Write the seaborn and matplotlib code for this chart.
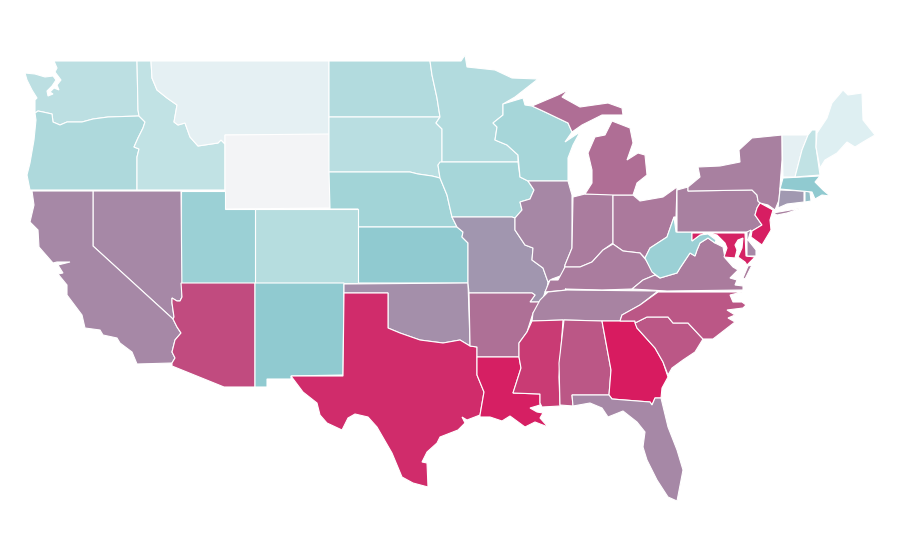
import matplotlib
matplotlib.use("Agg")
import matplotlib.pyplot as plt
import pandas as pd
import seaborn as sns
from matplotlib.colors import Normalize

# state values, 0-100
states = ["WA", "OR", "CA", "NV", "ID", "MT", "WY", "UT", "CO", "AZ", "NM", "ND", "SD", "NE", "KS", "OK", "TX",
          "MN", "IA", "MO", "AR", "LA", "WI", "IL", "IN", "MI", "OH", "KY", "TN", "MS", "AL", "GA", "FL", "SC",
          "NC", "VA", "WV", "PA", "NY", "MD", "DE", "NJ", "CT", "RI", "MA", "VT", "NH", "ME"]
values = [28, 35, 68.5, 68.5, 25, 7.5, 0, 44.5, 31, 86, 50, 33, 29, 41, 50, 66.5, 95,
          33, 39, 64.5, 75.5, 98.5, 39, 69, 72, 76, 73, 72, 70, 91, 82.5, 100, 68.5, 82.5,
          82.5, 72.5, 44.5, 71, 71, 98, 68.5, 99, 64, 53, 50, 7.5, 25, 11]

# map outlines, in map units (top left origin)
outlines = {
    "WA": [(54, 61), (137, 61), (138, 110), (139, 116), (108, 117), (93, 119), (82, 122), (67, 122), (60, 125),
           (53, 122), (52, 114), (43, 112), (38, 111), (35, 113), (35, 100), (37, 98), (32, 90), (27, 80), (25, 73),
           (35, 74), (45, 77), (53, 76), (56, 80), (52, 86), (47, 91), (48, 96), (53, 94), (50, 92), (54, 88),
           (59, 90), (57, 85), (61, 80), (58, 76), (55, 72), (57, 68)],
    "OR": [(35, 113), (38, 111), (43, 112), (52, 114), (53, 122), (60, 125), (67, 122), (82, 122), (93, 119),
           (108, 117), (139, 116), (145, 122), (143, 128), (138, 138), (134, 147), (139, 149), (137, 157), (137, 190),
           (30, 190), (27, 175), (30, 163), (34, 140), (36, 120)],
    "ID": [(137, 61), (151, 61), (152, 78), (157, 90), (167, 98), (177, 105), (174, 122), (178, 125), (185, 123),
           (190, 137), (198, 146), (218, 143), (221, 140), (225, 144), (225, 190), (137, 190), (137, 157), (139, 149),
           (134, 147), (138, 138), (143, 128), (145, 122), (139, 116), (138, 110)],
    "MT": [(151, 61), (329, 61), (329, 135), (225, 135), (225, 144), (221, 140), (218, 143), (198, 146), (190, 137),
           (185, 123), (178, 125), (174, 122), (177, 105), (167, 98), (157, 90), (152, 78)],
    "WY": [(225, 135), (329, 134), (330, 208), (225, 209)],
    "ND": [(329, 61), (430, 61), (432, 75), (437, 98), (440, 117), (329, 117)],
    "SD": [(329, 117), (440, 117), (436, 123), (442, 129), (442, 162), (438, 165), (440, 178), (432, 176), (418, 174),
           (410, 172), (329, 172)],
    "NE": [(329, 172), (410, 172), (418, 174), (432, 176), (440, 178), (447, 195), (452, 217), (457, 227), (358, 227),
           (358, 209), (330, 209)],
    "KS": [(358, 227), (457, 227), (463, 232), (462, 237), (468, 243), (468, 283), (358, 283)],
    "CO": [(255, 209), (358, 209), (358, 283), (255, 283)],
    "UT": [(181, 191), (225, 191), (225, 209), (255, 209), (255, 283), (181, 283)],
    "NV": [(93, 191), (181, 191), (182, 297), (180, 301), (177, 301), (172, 298), (172, 303), (174, 317), (173, 319),
           (93, 246)],
    "CA": [(32, 191), (93, 191), (93, 246), (173, 319), (177, 327), (181, 333), (175, 340), (172, 352), (175, 358),
           (172, 363), (137, 364), (132, 352), (120, 343), (117, 338), (103, 335), (100, 330), (85, 328), (82, 315),
           (67, 295), (67, 285), (58, 274), (63, 273), (58, 265), (70, 262), (57, 262), (53, 263), (39, 247),
           (38, 230), (30, 222), (34, 205)],
    "AZ": [(181, 283), (255, 283), (255, 387), (224, 387), (172, 366), (172, 363), (175, 358), (172, 352), (175, 340),
           (181, 333), (177, 327), (173, 319), (174, 317), (172, 303), (172, 298), (177, 301), (180, 301), (182, 297)],
    "NM": [(255, 283), (344, 283), (343, 375), (291, 376), (291, 379), (267, 379), (267, 387), (255, 387)],
    "OK": [(344, 284), (468, 283), (470, 343), (470, 346), (460, 340), (443, 343), (420, 340), (400, 333), (388, 328),
           (388, 293), (344, 293)],
    "TX": [(344, 293), (388, 293), (388, 328), (400, 333), (420, 340), (443, 343), (460, 340), (470, 346), (477, 347),
           (477, 375), (484, 392), (480, 415), (467, 420), (462, 417), (465, 423), (458, 430), (440, 437), (437, 443),
           (427, 452), (422, 462), (427, 463), (428, 487), (413, 483), (402, 477), (392, 453), (377, 427), (368, 417),
           (355, 414), (348, 418), (342, 430), (327, 423), (320, 415), (317, 403), (303, 392), (291, 376), (343, 376)],
    "MN": [(430, 61), (461, 61), (465, 55), (467, 67), (495, 70), (512, 78), (538, 79), (515, 97), (503, 104),
           (503, 115), (493, 123), (497, 127), (495, 140), (507, 145), (518, 155), (518, 162), (442, 162), (442, 129),
           (436, 123), (440, 117), (437, 98), (432, 75)],
    "IA": [(440, 162), (518, 162), (520, 177), (528, 181), (534, 190), (530, 199), (520, 202), (522, 210), (515, 218),
           (512, 217), (452, 217), (447, 195), (440, 178), (438, 165)],
    "MO": [(452, 217), (512, 217), (515, 218), (515, 230), (525, 245), (533, 248), (532, 260), (543, 268), (548, 282),
           (547, 288), (545, 292), (542, 302), (530, 302), (535, 295), (532, 293), (469, 293), (468, 283), (468, 243),
           (462, 237), (463, 232), (457, 227)],
    "AR": [(469, 293), (532, 293), (535, 295), (530, 302), (542, 302), (533, 313), (527, 332), (519, 343), (519, 357),
           (477, 357), (477, 347), (470, 346), (470, 343)],
    "LA": [(477, 357), (519, 357), (521, 368), (513, 393), (540, 394), (540, 405), (530, 408), (537, 412), (543, 413),
           (540, 418), (548, 427), (535, 422), (525, 427), (510, 416), (502, 421), (490, 417), (480, 417), (480, 415),
           (484, 392), (477, 375)],
    "WI": [(503, 104), (523, 98), (525, 105), (532, 106), (545, 112), (568, 123), (572, 132), (565, 142), (580, 132),
           (573, 145), (568, 158), (568, 181), (528, 181), (520, 177), (518, 155), (507, 145), (495, 140), (497, 127),
           (493, 123), (503, 115)],
    "IL": [(528, 181), (568, 181), (572, 195), (572, 248), (565, 265), (563, 275), (552, 279), (548, 282), (543, 268),
           (532, 260), (533, 248), (525, 245), (515, 230), (515, 218), (522, 210), (520, 202), (530, 199), (534, 190)],
    "IN": [(573, 197), (585, 194), (613, 194), (613, 243), (603, 250), (592, 262), (580, 267), (565, 267), (565, 265),
           (572, 248)],
    "OH": [(613, 195), (633, 195), (640, 201), (663, 197), (677, 187), (676, 217), (674, 217), (667, 237), (650, 248),
           (645, 258), (640, 253), (623, 251), (613, 244)],
    "KY": [(545, 292), (550, 280), (558, 280), (565, 267), (580, 267), (592, 262), (603, 250), (613, 244), (623, 251),
           (640, 253), (646, 260), (655, 275), (643, 280), (632, 289), (602, 290), (565, 289), (567, 290)],
    "TN": [(532, 321), (533, 313), (540, 300), (548, 292), (567, 290), (658, 291), (640, 305), (622, 315), (620, 321),
           (602, 321), (564, 320)],
    "MS": [(532, 321), (563, 320), (559, 377), (560, 406), (542, 407), (540, 403), (540, 394), (513, 393), (521, 368),
           (519, 357), (519, 343), (527, 332)],
    "AL": [(564, 320), (602, 321), (611, 370), (609, 395), (572, 395), (573, 406), (560, 405), (559, 363)],
    "GA": [(602, 321), (635, 321), (637, 328), (655, 348), (663, 362), (668, 377), (662, 388), (661, 398), (655, 398),
           (652, 405), (650, 402), (612, 399), (609, 395), (611, 370)],
    "FL": [(572, 395), (609, 395), (612, 399), (650, 402), (652, 405), (655, 398), (661, 398), (668, 427), (677, 450),
           (683, 470), (677, 501), (668, 497), (657, 480), (647, 460), (643, 447), (645, 432), (637, 422), (623, 411),
           (608, 417), (602, 408), (590, 403), (573, 406)],
    "SC": [(635, 323), (647, 317), (668, 317), (673, 323), (688, 323), (703, 339), (695, 352), (683, 360), (672, 368),
           (668, 375), (663, 362), (655, 348), (637, 328)],
    "NC": [(620, 321), (622, 315), (640, 305), (658, 292), (742, 292), (730, 295), (733, 302), (742, 302), (746, 305),
           (743, 308), (727, 310), (735, 315), (728, 318), (735, 322), (713, 339), (703, 339), (688, 323), (673, 323),
           (668, 317), (647, 317), (635, 323), (635, 321)],
    "VA": [(632, 289), (643, 280), (655, 275), (660, 278), (677, 273), (680, 268), (690, 253), (695, 256), (697, 250),
           (700, 243), (708, 238), (715, 243), (723, 247), (725, 258), (733, 267), (738, 270), (730, 278), (737, 280),
           (735, 285), (743, 286), (743, 290), (667, 291)],
    "ES": [(752, 265), (748, 266), (743, 278), (745, 279)],
    "WV": [(645, 258), (650, 248), (667, 237), (674, 217), (676, 232), (692, 232), (692, 241), (700, 235), (708, 234),
           (716, 240), (715, 243), (708, 238), (700, 243), (697, 250), (695, 256), (690, 253), (680, 268), (677, 273),
           (660, 278), (652, 272)],
    "PA": [(677, 190), (688, 187), (688, 191), (752, 190), (757, 195), (758, 201), (760, 203), (757, 208), (755, 215),
           (762, 225), (752, 231), (747, 232), (677, 232)],
    "NY": [(688, 187), (700, 177), (698, 167), (720, 166), (740, 162), (739, 150), (752, 138), (782, 135), (782, 160),
           (779, 200), (775, 210), (768, 205), (760, 203), (758, 201), (757, 195), (752, 190), (688, 191)],
    "LI": [(773, 213), (802, 208), (787, 213), (777, 215)],
    "MD": [(692, 233), (745, 233), (746, 256), (755, 257), (747, 265), (745, 262), (738, 257), (742, 248), (743, 238),
           (738, 240), (735, 245), (737, 250), (735, 258), (724, 257), (727, 248), (725, 243), (717, 235), (708, 233),
           (700, 235), (692, 241)],
    "DE": [(747, 232), (751, 230), (748, 240), (756, 250), (756, 256), (747, 256)],
    "NJ": [(760, 203), (773, 210), (770, 220), (771, 230), (762, 245), (751, 237), (752, 231), (762, 225), (755, 215),
           (757, 208)],
    "CT": [(780, 190), (804, 191), (804, 202), (787, 204), (778, 208)],
    "RI": [(805, 191), (810, 192), (811, 201), (805, 202)],
    "MA": [(783, 178), (820, 176), (815, 182), (823, 190), (830, 196), (822, 195), (815, 199), (812, 192), (780, 189)],
    "VT": [(782, 135), (808, 135), (802, 150), (795, 177), (783, 177)],
    "NH": [(808, 135), (812, 130), (816, 130), (816, 147), (819, 168), (820, 175), (795, 177), (802, 150)],
    "ME": [(816, 147), (817, 133), (827, 118), (832, 103), (838, 96), (843, 90), (848, 95), (862, 93), (863, 120),
           (875, 135), (863, 142), (855, 147), (847, 142), (837, 153), (825, 160), (820, 168)],
    "MI": [(585, 194), (613, 195), (633, 195), (637, 183), (647, 175), (645, 155), (638, 153), (627, 160), (633, 143),
           (630, 128), (612, 121), (605, 135), (595, 137), (588, 153), (592, 170), (592, 183)],
    "UP": [(532, 106), (558, 95), (568, 90), (562, 97), (580, 107), (608, 103), (622, 108), (623, 115), (602, 115),
           (582, 125), (572, 132), (568, 123), (545, 112)],
}
# parts drawn with the colour of another state
parts = {"LI": "NY", "UP": "MI", "ES": "VA"}

df = pd.DataFrame({"state": states, "value": values}).set_index("state")

sns.set_theme(style="white")
# equally spaced stops, extra one near the light end keeps it from going grey
cmap = sns.blend_palette(["#f3f4f6", "#dbeef1", "#c1e2e4", "#a9d7da", "#90cbd0", "#9f9eb4", "#ad7297", "#c3477c",
                          "#d81b60"], as_cmap=True)
norm = Normalize(0, 100)

fig, ax = plt.subplots(figsize=(9, 5.6), dpi=100)
fig.subplots_adjust(0, 0, 1, 1)
for name, pts in outlines.items():
    v = df.loc[parts.get(name, name), "value"]
    xs, ys = zip(*pts)
    ax.fill(xs, ys, facecolor=cmap(norm(v)), edgecolor="white", linewidth=0.8)

ax.set_xlim(0, 900)
ax.set_ylim(560, 0)
ax.axis("off")
fig.savefig("out.png", dpi=100)
